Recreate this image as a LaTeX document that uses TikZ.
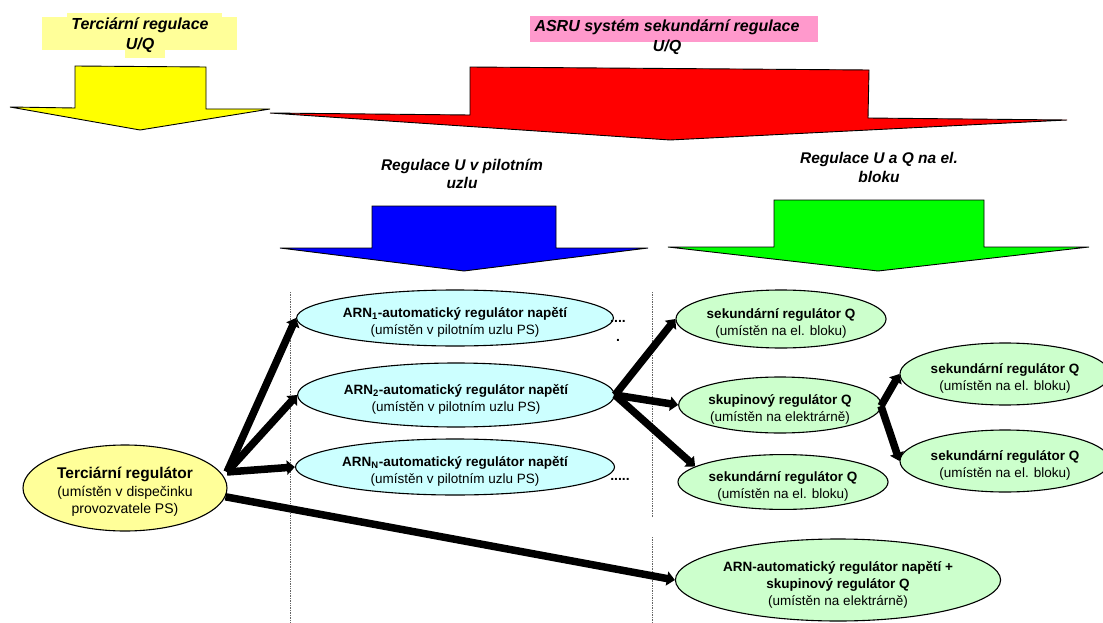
\documentclass[tikz,border=0pt]{standalone}
\usepackage{fontspec}
\setmainfont{Liberation Sans}
\usetikzlibrary{shapes.geometric,arrows.meta}
\definecolor{arY}{HTML}{FFFF00}
\definecolor{arR}{HTML}{FF0000}
\definecolor{arB}{HTML}{0000FF}
\definecolor{arG}{HTML}{00FF00}
\definecolor{hlY}{HTML}{FFFF99}
\definecolor{hlP}{HTML}{FF99CC}
\definecolor{elY}{HTML}{FFFF99}
\definecolor{elC}{HTML}{CCFFFF}
\definecolor{elG}{HTML}{CCFFCC}
\newcommand\tup{\rule{0pt}{19pt}}
\begin{document}
\begin{tikzpicture}[x=1pt,y=-1pt,
  bigarrow/.style={draw=black,line width=0.9pt,line join=miter},
  ell/.style={ellipse,draw=black,line width=1.1pt,inner sep=0pt,align=center,
    font=\fontsize{13.5}{17}\selectfont},
  title/.style={align=center,font=\fontsize{16}{20}\selectfont\bfseries\itshape,inner sep=0pt},
  subtitle/.style={align=center,font=\fontsize{15.5}{18.5}\selectfont\bfseries\itshape,inner sep=0pt},
  conn/.style={line width=7.5pt,-{Triangle[length=8pt,width=14pt]}},
  sep/.style={densely dotted,line width=0.7pt,black!60},
  dots/.style={font=\fontsize{14}{14}\selectfont\bfseries,inner sep=0pt}
]
\useasboundingbox[fill=white] (0,0) rectangle (1103,623);

% highlight boxes
\fill[hlY] (42,17) rectangle (237,50);
\fill[hlY] (67,13) rectangle (222,17);
\fill[hlY] (125,50) rectangle (165,58);
\fill[hlP] (530,16) rectangle (818,42);

% titles
\node[title] (tT) at (140,35) {Terciární regulace\\U/Q};
\node[title] (tA) at (667,37.5) {ASRU systém sekundární regulace\\U/Q};
\node[subtitle] (tU) at (462,174) {Regulace U v pilotním\\uzlu};
\node[subtitle] (tB) at (879,167.5) {Regulace U a Q na el.\\bloku};

% big arrows
\draw[bigarrow,fill=arY] (10,107) -- (75,108) -- (75,66) -- (206,67) -- (206,109) -- (270,109) -- (140,130) -- cycle;
\draw[bigarrow,fill=arR] (270,113) -- (470,115) -- (470,67) -- (869,70) -- (868,118) -- (1067,120) -- (670,140) -- cycle;
\draw[bigarrow,fill=arB] (280,248) -- (372,248) -- (372,206) -- (556,206) -- (556,248) -- (648,248) -- (464,271) -- cycle;
\draw[bigarrow,fill=arG] (668,247) -- (774,247) -- (774,200) -- (984,200) -- (984,247) -- (1089,247) -- (878,271) -- cycle;

% separators
\draw[sep] (290,292) -- (290,623);
\draw[sep] (652,292) -- (652,517);
\draw[sep] (652,537) -- (652,623);

% ellipses
\node[ell,fill=elY,minimum width=204pt,minimum height=86pt,font=\fontsize{14}{17.5}\selectfont] (ter) at (125,488)
  {{\fontsize{15.5}{17.5}\selectfont\bfseries\tup Terciární regulátor}\\(umístěn v dispečinku\\provozvatele PS)};
\node[ell,fill=elC,minimum width=280pt,minimum height=56pt] (arn1) at (455,318)
  {{\bfseries\tup ARN\textsubscript{1}-automatický regulátor napětí}\\(umístěn v pilotním uzlu PS)};
\node[ell,fill=elC,minimum width=278pt,minimum height=64pt] (arn2) at (456,395)
  {{\bfseries\tup ARN\textsubscript{2}-automatický regulátor napětí}\\(umístěn v pilotním uzlu PS)};
\node[ell,fill=elC,minimum width=280pt,minimum height=56pt] (arnn) at (455,467)
  {{\bfseries\tup ARN\textsubscript{N}-automatický regulátor napětí}\\(umístěn v pilotním uzlu PS)};
\node[ell,fill=elG,minimum width=184pt,minimum height=58pt] (q1) at (781,319)
  {{\bfseries\tup sekundární regulátor Q}\\(umístěn na el. bloku)};
\node[ell,fill=elG,minimum width=184pt,minimum height=56pt] (skup) at (780,405)
  {{\bfseries\tup skupinový regulátor Q}\\(umístěn na elektrárně)};
\node[ell,fill=elG,minimum width=186pt,minimum height=54pt] (q3) at (783,482)
  {{\bfseries\tup sekundární regulátor Q}\\(umístěn na el. bloku)};
\node[ell,fill=elG,minimum width=190pt,minimum height=62pt] (r1) at (1005,374)
  {{\bfseries\tup sekundární regulátor Q}\\(umístěn na el. bloku)};
\node[ell,fill=elG,minimum width=188pt,minimum height=62pt] (r2) at (1005,461)
  {{\bfseries\tup sekundární regulátor Q}\\(umístěn na el. bloku)};
\node[ell,fill=elG,minimum width=300pt,minimum height=82pt] (arnp) at (838,580)
  {{\bfseries\tup ARN-automatický regulátor napětí +}\\{\bfseries skupinový regulátor Q}\\(umístěn na elektrárně)};

% dots
\node[dots] (d1) at (618,321) {....};
\node[dots] (d2) at (618,340) {.};
\node[dots] (d3) at (620,479) {.....};

% junctions
\coordinate (tj) at (227,472);
\coordinate (sj) at (881,406);

% connectors
\draw[conn] (tj) -- (arn1.west);
\draw[conn] (tj) -- (arn2.west);
\draw[conn] (tj) -- (arnn.west);
\draw[conn] (ter.-5) -- (arnp.west);
\draw[conn] (arn2.east) -- (q1.west);
\draw[conn] (arn2.east) -- (skup.west);
\draw[conn] (arn2.east) -- (q3.170);
\draw[conn] (sj) -- (r1.west);
\draw[conn] (sj) -- (r2.west);
\end{tikzpicture}
\end{document}
